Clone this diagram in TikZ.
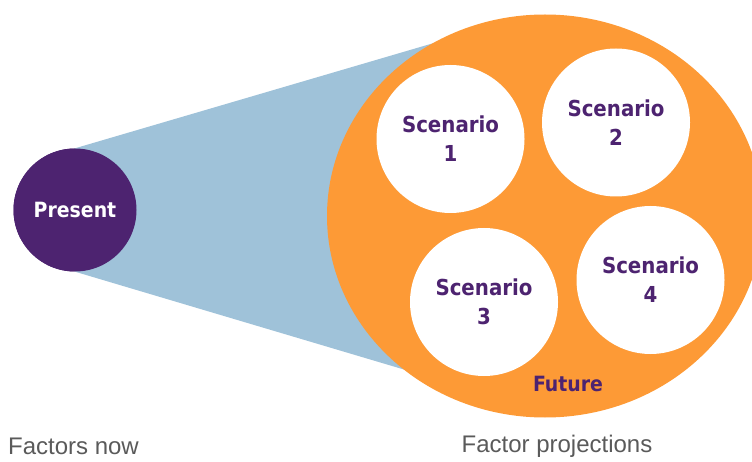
\documentclass[tikz,border=0pt]{standalone}
\usepackage{fontspec}
\setmainfont{DejaVu Sans Condensed}
\newfontfamily\labelfont{Liberation Sans}
\usepackage{tikz}
\usetikzlibrary{shapes.geometric,positioning}

\definecolor{deeppurple}{HTML}{4D2370}
\definecolor{futureorange}{HTML}{FD9A36}
\definecolor{coneblue}{HTML}{9FC2D9}
\definecolor{labelgray}{HTML}{5A5A5A}

\begin{document}
\begin{tikzpicture}[x=1pt,y=-1pt]
\tikzstyle{now}=[circle, minimum size=123pt, inner sep=0pt, fill=deeppurple, text=white, font=\bfseries\fontsize{21}{24}\selectfont]
\tikzstyle{later}=[ellipse, minimum width=436pt, minimum height=403pt, inner sep=0pt, fill=futureorange]
\tikzstyle{scen}=[circle, minimum size=148pt, inner sep=0pt, fill=white, text=deeppurple, align=center, font=\bfseries\fontsize{22}{29}\selectfont]
\tikzstyle{cone}=[fill=coneblue]
\tikzstyle{caption}=[text=labelgray, font=\labelfont\fontsize{24}{28}\selectfont]

\useasboundingbox (0,0) rectangle (752,462);

	\coordinate (c_up) at (470,32.4);
	\coordinate (c_low) at (420,374.3);
	\node[now] (present) at (75,210) {};
	\fill[cone] (present.north) -- (c_up) -- (c_low) -- (present.south) -- cycle;
	\node[now] at (present) {Present};

	\node[later] (future) at (545,216) {};
	\node[scen] (s_1) at (450.5,139) {Scenario\\1};
	\node[scen] (s_2) at (616,122.5) {Scenario\\2};
	\node[scen] (s_3) at (484,302) {Scenario\\3};
	\node[scen] (s_4) at (650.5,280) {Scenario\\4};
	\node[text=deeppurple, font=\bfseries\fontsize{21}{24}\selectfont] (f_lbl) at (568,384) {Future};

	\node[caption] (now_lbl) at (73.5,446) {Factors now};
	\node[caption] (proj_lbl) at (557,446) {Factor projections};

\end{tikzpicture}
\end{document}
